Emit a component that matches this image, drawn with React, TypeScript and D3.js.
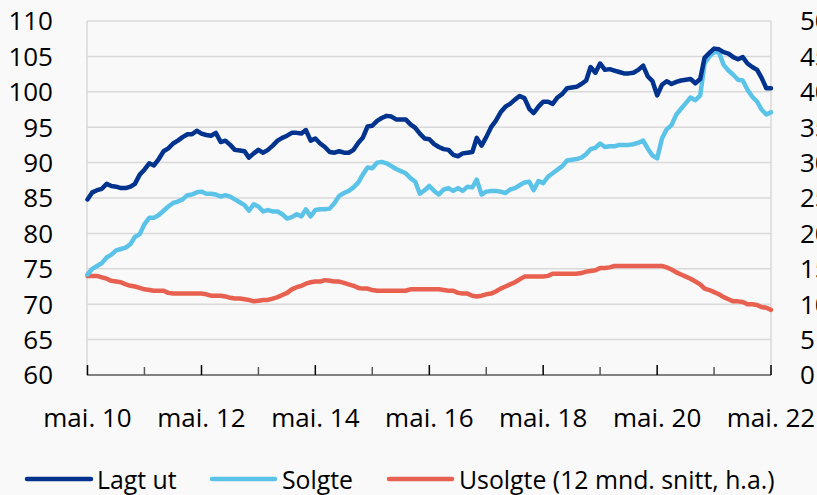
import React from "react";
import * as d3 from "d3";

// ---- data (monthly, May 2010 – May 2022) ----
const startYear = 2010;
const startMonth = 4; // May (0-based)

const lagtUt: number[] = [
  84.8, 85.8, 86.1, 86.3, 87.0, 86.7, 86.6, 86.4, 86.4, 86.6, 87.0, 88.3,
  89.0, 89.9, 89.6, 90.5, 91.6, 92.0, 92.7, 93.1, 93.6, 94.0, 94.0, 94.5,
  94.1, 93.9, 93.8, 94.2, 92.9, 93.1, 92.5, 91.8, 91.7, 91.6, 90.7, 91.3,
  91.8, 91.4, 91.8, 92.4, 93.1, 93.5, 93.8, 94.2, 94.2, 94.1, 94.6, 93.1,
  93.4, 92.7, 92.2, 91.5, 91.4, 91.6, 91.4, 91.4, 91.8, 92.8, 93.5, 95.1,
  95.2, 95.9, 96.3, 96.6, 96.5, 96.1, 96.1, 96.1, 95.4, 94.9, 94.1, 93.4,
  93.3, 92.6, 92.2, 91.9, 91.8, 91.1, 90.9, 91.3, 91.4, 91.5, 93.5, 92.4,
  93.6, 95.0, 95.9, 97.1, 97.9, 98.3, 98.9, 99.4, 99.1, 97.6, 97.0, 97.9,
  98.6, 98.6, 98.3, 99.2, 99.7, 100.5, 100.6, 100.7, 101.1, 101.6, 103.5, 102.7,
  104.0, 103.1, 103.2, 103.0, 102.8, 102.6, 102.6, 102.7, 103.1, 103.7, 102.2, 101.5,
  99.5, 101.0, 101.5, 101.1, 101.4, 101.6, 101.7, 101.8, 101.2, 101.8, 104.8, 105.5,
  106.1, 106.0, 105.6, 105.4, 104.9, 104.6, 104.9, 104.0, 103.5, 103.1, 102.0, 100.5,
  100.5,
];

const solgte: number[] = [
  74.2, 75.0, 75.4, 75.8, 76.6, 77.0, 77.6, 77.8, 78.0, 78.5, 79.5, 79.9,
  81.3, 82.2, 82.2, 82.6, 83.2, 83.8, 84.3, 84.5, 84.8, 85.4, 85.5, 85.8,
  85.9, 85.6, 85.6, 85.5, 85.2, 85.4, 85.2, 84.8, 84.4, 84.0, 83.2, 84.1,
  83.8, 83.1, 83.3, 83.1, 83.1, 82.7, 82.1, 82.3, 82.7, 82.4, 83.4, 82.4,
  83.3, 83.4, 83.4, 83.5, 84.3, 85.3, 85.7, 86.0, 86.5, 87.2, 88.3, 89.3,
  89.2, 90.0, 90.1, 89.9, 89.5, 89.1, 88.8, 88.5, 87.8, 87.3, 85.6, 86.1,
  86.7, 86.0, 85.5, 86.2, 86.4, 86.0, 86.4, 86.0, 86.6, 86.5, 87.6, 85.5,
  85.9, 86.0, 86.0, 85.9, 85.7, 86.2, 86.4, 86.8, 87.2, 87.3, 86.1, 87.4,
  87.1, 88.0, 88.5, 89.0, 89.5, 90.3, 90.4, 90.5, 90.7, 91.2, 91.9, 92.1,
  92.7, 92.2, 92.3, 92.3, 92.5, 92.5, 92.5, 92.6, 92.8, 93.1, 92.0, 91.0,
  90.6, 93.4, 94.7, 95.3, 96.8, 97.6, 98.4, 99.2, 98.8, 99.5, 104.0, 105.0,
  105.6, 105.6, 103.8, 103.0, 102.4, 101.7, 101.6, 100.3, 99.3, 98.6, 97.5, 96.8,
  97.1,
];

const usolgte: number[] = [
  14.0, 14.0, 14.0, 13.8, 13.6, 13.3, 13.2, 13.1, 12.8, 12.6, 12.5, 12.3,
  12.1, 12.0, 11.9, 11.9, 11.9, 11.6, 11.5, 11.5, 11.5, 11.5, 11.5, 11.5,
  11.5, 11.4, 11.2, 11.2, 11.2, 11.1, 10.9, 10.8, 10.8, 10.7, 10.6, 10.4,
  10.5, 10.6, 10.6, 10.8, 11.0, 11.3, 11.6, 12.1, 12.4, 12.6, 12.9, 13.1,
  13.2, 13.2, 13.4, 13.3, 13.2, 13.2, 13.0, 12.8, 12.6, 12.3, 12.2, 12.2,
  12.0, 11.9, 11.9, 11.9, 11.9, 11.9, 11.9, 11.9, 12.1, 12.1, 12.1, 12.1,
  12.1, 12.1, 12.1, 12.0, 11.9, 11.9, 11.6, 11.5, 11.5, 11.2, 11.1, 11.2,
  11.4, 11.5, 11.8, 12.2, 12.5, 12.8, 13.1, 13.5, 13.9, 13.9, 13.9, 13.9,
  13.9, 14.0, 14.3, 14.3, 14.3, 14.3, 14.3, 14.3, 14.4, 14.6, 14.7, 14.8,
  15.1, 15.1, 15.2, 15.4, 15.4, 15.4, 15.4, 15.4, 15.4, 15.4, 15.4, 15.4,
  15.4, 15.4, 15.2, 14.9, 14.5, 14.2, 13.9, 13.6, 13.2, 12.8, 12.2, 12.0,
  11.7, 11.4, 11.0, 10.7, 10.4, 10.4, 10.3, 10.0, 10.0, 9.9, 9.6, 9.5,
  9.2,
];

const leftTicks = [60, 65, 70, 75, 80, 85, 90, 95, 100, 105, 110];
const rightTicks = [0, 5, 10, 15, 20, 25, 30, 35, 40, 45, 50];
const seriesNames = ["Lagt ut", "Solgte", "Usolgte (12 mnd. snitt, h.a.)"];
const seriesColors = ["#00338d", "#5bc3e8", "#e8604f"];

const dates = lagtUt.map((_, i) => new Date(startYear, startMonth + i, 1));
const yearTicks = d3.range(0, 13).map((k) => new Date(startYear + k, startMonth, 1));

const W = 817;
const H = 495;
const FONT = "'Open Sans', 'Noto Sans', sans-serif";
const FS = 26;

export default function App() {
  const x = d3
    .scaleTime()
    .domain([dates[0], dates[dates.length - 1]])
    .range([87.5, 771]);
  const yL = d3.scaleLinear().domain([60, 110]).range([375, 21]);
  const yR = d3.scaleLinear().domain([0, 50]).range([375, 21]);

  const lineL = d3
    .line<number>()
    .x((_, i) => x(dates[i]))
    .y((d) => yL(d));
  const lineR = d3
    .line<number>()
    .x((_, i) => x(dates[i]))
    .y((d) => yR(d));

  const legendItems = [
    { x0: 27, x1: 91, tx: 97 },
    { x0: 212, x1: 275, tx: 282 },
    { x0: 389, x1: 452, tx: 459 },
  ];

  return (
    <div style={{ position: "fixed", left: 0, top: 0, width: W, height: H, background: "#f9f9f9" }}>
      <svg width={W} height={H} style={{ display: "block" }} fontFamily={FONT}>
        <rect x={0} y={0} width={W} height={H} fill="#f9f9f9" />
        {/* gridlines */}
        {leftTicks.slice(1).map((t) => (
          <line key={t} x1={87} x2={771} y1={yL(t)} y2={yL(t)} stroke="#d9d9d9" strokeWidth={1.5} />
        ))}
        {/* left & right axis lines */}
        <line x1={87} x2={87} y1={21} y2={375} stroke="#d9d9d9" strokeWidth={1.5} />
        <line x1={771} x2={771} y1={21} y2={375} stroke="#d9d9d9" strokeWidth={1.5} />
        {/* left labels */}
        {leftTicks.map((t) => (
          <text key={t} x={53} y={yL(t)} dy="0.36em" textAnchor="end" fontSize={FS} fill="#000">
            {t}
          </text>
        ))}
        {/* right labels */}
        {rightTicks.map((t) => (
          <text key={t} x={800} y={yR(t)} dy="0.36em" textAnchor="start" fontSize={FS} fill="#000">
            {t}
          </text>
        ))}
        {/* series */}
        <path d={lineR(usolgte) || ""} fill="none" stroke={seriesColors[2]} strokeWidth={4.5} strokeLinejoin="round" strokeLinecap="round" />
        <path d={lineL(solgte) || ""} fill="none" stroke={seriesColors[1]} strokeWidth={4.5} strokeLinejoin="round" strokeLinecap="round" />
        <path d={lineL(lagtUt) || ""} fill="none" stroke={seriesColors[0]} strokeWidth={4.5} strokeLinejoin="round" strokeLinecap="round" />
        {/* x axis */}
        <line x1={87} x2={771} y1={375} y2={375} stroke="#595959" strokeWidth={1.5} />
        {yearTicks.map((d, k) => (
          <line
            key={k}
            x1={x(d)}
            x2={x(d)}
            y1={375}
            y2={k % 2 === 0 ? 365 : 367}
            stroke={k % 2 === 0 ? "#000" : "#595959"}
            strokeWidth={1.5}
          />
        ))}
        {yearTicks
          .filter((_, k) => k % 2 === 0)
          .map((d) => (
            <text key={d.getFullYear()} x={x(d)} y={427} textAnchor="middle" fontSize={FS} fill="#000">
              {"mai. " + String(d.getFullYear()).slice(2)}
            </text>
          ))}
        {/* legend */}
        {legendItems.map((it, i) => (
          <g key={i}>
            <line x1={it.x0} x2={it.x1} y1={479} y2={479} stroke={seriesColors[i]} strokeWidth={4.5} strokeLinecap="round" />
            <text transform={`translate(${it.tx},489) scale(0.955,1)`} fontSize={FS} fill="#000">
              {seriesNames[i]}
            </text>
          </g>
        ))}
      </svg>
    </div>
  );
}
